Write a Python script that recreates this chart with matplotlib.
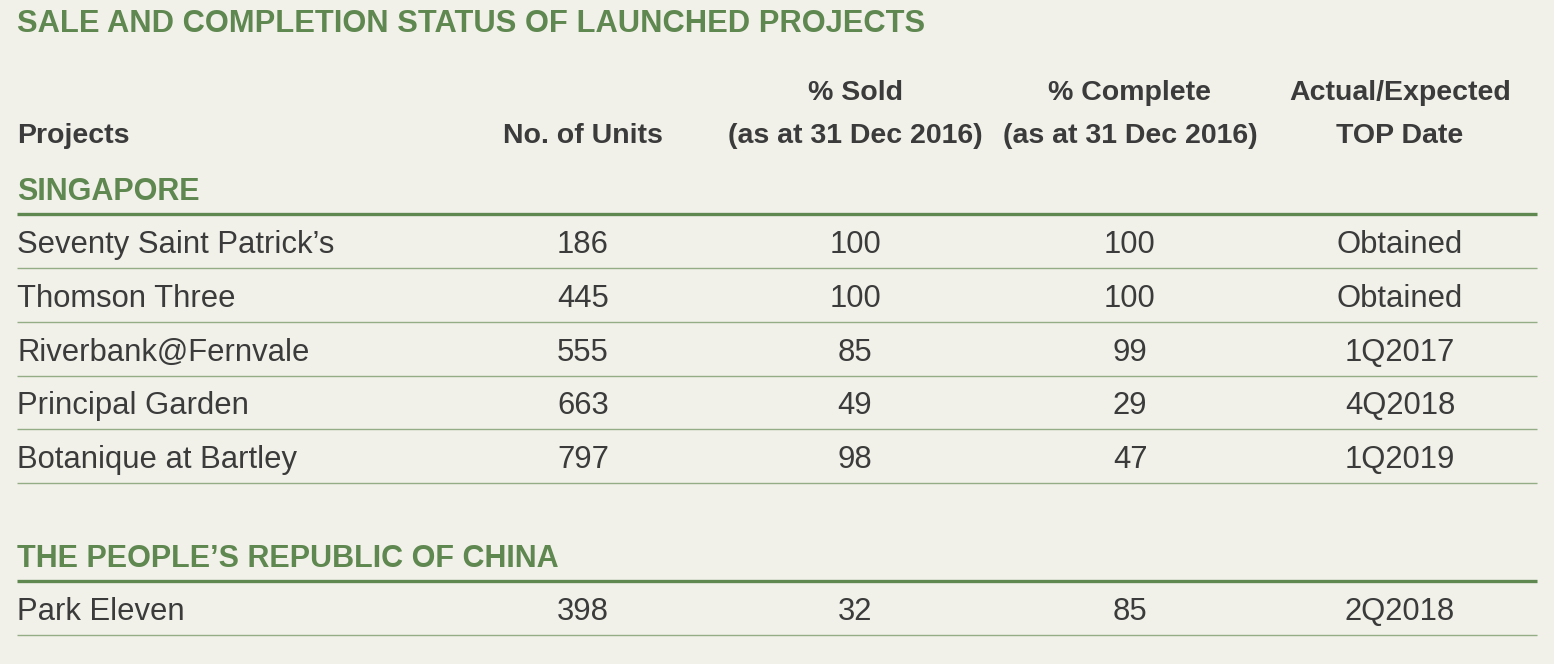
import matplotlib.pyplot as plt

# table content
title = "SALE AND COMPLETION STATUS OF LAUNCHED PROJECTS"
header_top = ["", "", "% Sold", "% Complete", "Actual/Expected"]
header_bottom = ["Projects", "No. of Units", "(as at 31 Dec 2016)", "(as at 31 Dec 2016)", "TOP Date"]

sg_projects = ["Seventy Saint Patrick\u2019s", "Thomson Three", "Riverbank@Fernvale",
               "Principal Garden", "Botanique at Bartley"]
sg_units = [186, 445, 555, 663, 797]
sg_sold = [100, 100, 85, 49, 98]
sg_complete = [100, 100, 99, 29, 47]
sg_top = ["Obtained", "Obtained", "1Q2017", "4Q2018", "1Q2019"]

cn_projects = ["Park Eleven"]
cn_units = [398]
cn_sold = [32]
cn_complete = [85]
cn_top = ["2Q2018"]

sections = [
    ("SINGAPORE", sg_projects, sg_units, sg_sold, sg_complete, sg_top),
    ("THE PEOPLE\u2019S REPUBLIC OF CHINA", cn_projects, cn_units, cn_sold, cn_complete, cn_top),
]

BG = "#f1f1ea"
GREEN = "#5f8750"
LIGHT = "#94ad87"
TEXT = "#3b3b3b"

plt.rcParams['font.family'] = ['Liberation Sans', 'DejaVu Sans']

fig = plt.figure(figsize=(15.54, 6.64), dpi=100, facecolor=BG)
ax = fig.add_axes([0, 0, 1, 1])
ax.set_xlim(0, 1554)
ax.set_ylim(664, 0)
ax.axis('off')
ax.set_facecolor(BG)

left, right = 17, 1537
col_x = [583, 855, 1130, 1400]
fs = 22.3      # body rows
fs_head = 20.5
fs_sec = 22

ax.text(left, 24, title, color=GREEN, fontsize=22.2, fontweight='bold', va='center', ha='left')

for i, (t, b) in enumerate(zip(header_top, header_bottom)):
    if i == 0:
        ax.text(left, 136, b, color=TEXT, fontsize=fs_head, fontweight='bold', va='center', ha='left')
        continue
    x = col_x[i - 1]
    if t:
        ax.text(x, 93, t, color=TEXT, fontsize=fs_head, fontweight='bold', va='center', ha='center')
    ax.text(x, 136, b, color=TEXT, fontsize=fs_head, fontweight='bold', va='center', ha='center')

section_y = [190, 557]
row_h = 53.8
for sy, (name, projs, units, sold, comp, top) in zip(section_y, sections):
    ax.text(left, sy + 2, name, color=GREEN, fontsize=fs_sec, fontweight='bold', va='center', ha='left')
    ax.plot([left, right], [sy + 24, sy + 24], color=GREEN, lw=2.4, solid_capstyle='butt')
    for k in range(len(projs)):
        ry = sy + 53 + k * row_h
        ax.text(left, ry + 2, projs[k], color=TEXT, fontsize=fs, va='center', ha='left')
        for x, v in zip(col_x, [units[k], sold[k], comp[k], top[k]]):
            ax.text(x, ry + 2, str(v), color=TEXT, fontsize=fs, va='center', ha='center')
        ly = ry + 25
        ax.plot([left, right], [ly, ly], color=LIGHT, lw=1.0, solid_capstyle='butt')

fig.savefig("out.png", dpi=100, facecolor=BG)
